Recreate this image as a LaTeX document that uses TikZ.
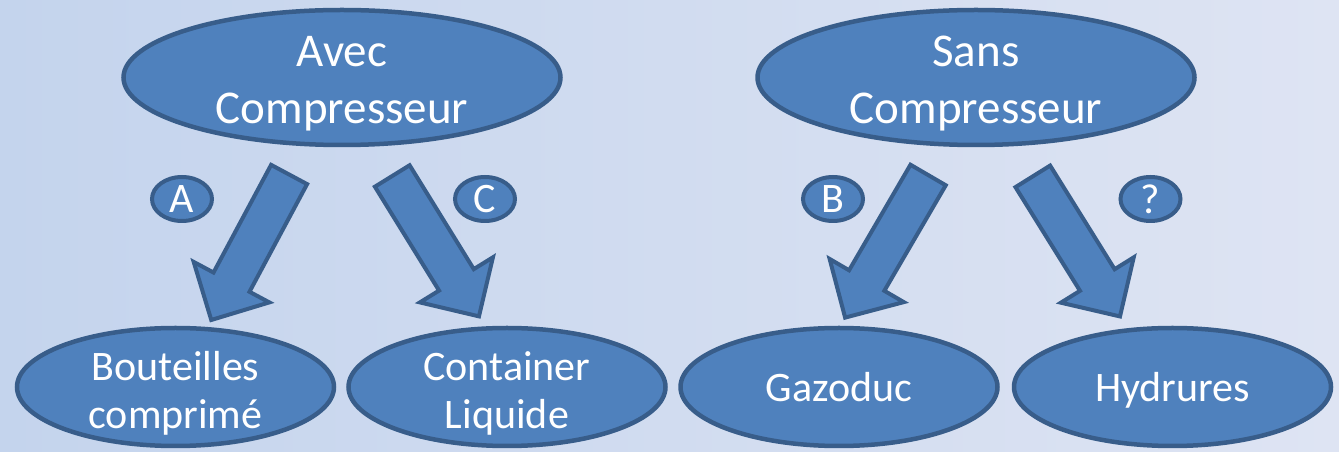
\documentclass[tikz,border=0pt]{standalone}
\usepackage{fontspec}
\setmainfont{Carlito}
\usetikzlibrary{shapes.geometric,shapes.arrows}
\definecolor{accfill}{RGB}{79,129,189}
\definecolor{accline}{RGB}{56,93,138}
\definecolor{bgleft}{RGB}{196,212,237}
\definecolor{bgright}{RGB}{222,228,243}

\begin{document}
\begin{tikzpicture}[x=1pt, y=1pt,
  oval/.style={ellipse, draw=accline, fill=accfill, line width=4.5pt, inner sep=0pt},
  mainoval/.style={oval, minimum width=437pt, minimum height=135pt},
  leafoval/.style={oval, minimum width=317pt, minimum height=118pt},
  tagoval/.style={oval, line width=4pt, minimum width=60pt, minimum height=44pt, text=white, text depth=0pt, font=\fontsize{42}{50}\selectfont},
  maintext/.style={text=white, align=center, yshift=-6pt, font=\fontsize{47}{57}\selectfont},
  leaftext/.style={text=white, align=center, yshift=-6pt, font=\fontsize{42}{48}\selectfont},
  leafword/.style={text=white, text depth=0pt, font=\fontsize{42}{48}\selectfont},
  blockarrow/.style={single arrow, draw=accline, fill=accfill, line width=4pt, minimum height=165pt, inner xsep=0pt, inner ysep=18.4pt, single arrow head extend=22.5pt}
]
  \shade[left color=bgleft, right color=bgright] (0,0) rectangle (1339,452);

  \node[mainoval, label={[maintext]center:{Avec\\Compresseur}}] (avec) at (342,374.5) {};
  \node[mainoval, label={[maintext]center:{Sans\\Compresseur}}] (sans) at (976,374.5) {};

  \node[leafoval, label={[leaftext]center:{Bouteilles\\comprimé}}] (bout) at (175.5,65) {};
  \node[leafoval, label={[leaftext]center:{Container\\Liquide}}] (cont) at (507,65) {};
  \node[leafoval, label={[leafword]center:Gazoduc}] (gaz) at (839,65) {};
  \node[leafoval, label={[leafword]center:Hydrures}] (hyd) at (1172.5,65) {};

  \node[blockarrow, rotate=241.85] (arrA) at (255,213.75) {};
  \node[blockarrow, rotate=-58.3] (arrC) at (430.25,214.5) {};
  \node[blockarrow, rotate=239.8] (arrB) at (891.75,214.5) {};
  \node[blockarrow, rotate=-58.1] (arrQ) at (1071,214.25) {};

  \node[tagoval] (tagA) at (182,253) {A};
  \node[tagoval] (tagC) at (485,253) {C};
  \node[tagoval] (tagB) at (833,253) {B};
  \node[tagoval] (tagQ) at (1150.5,253) {?};
\end{tikzpicture}
\end{document}
